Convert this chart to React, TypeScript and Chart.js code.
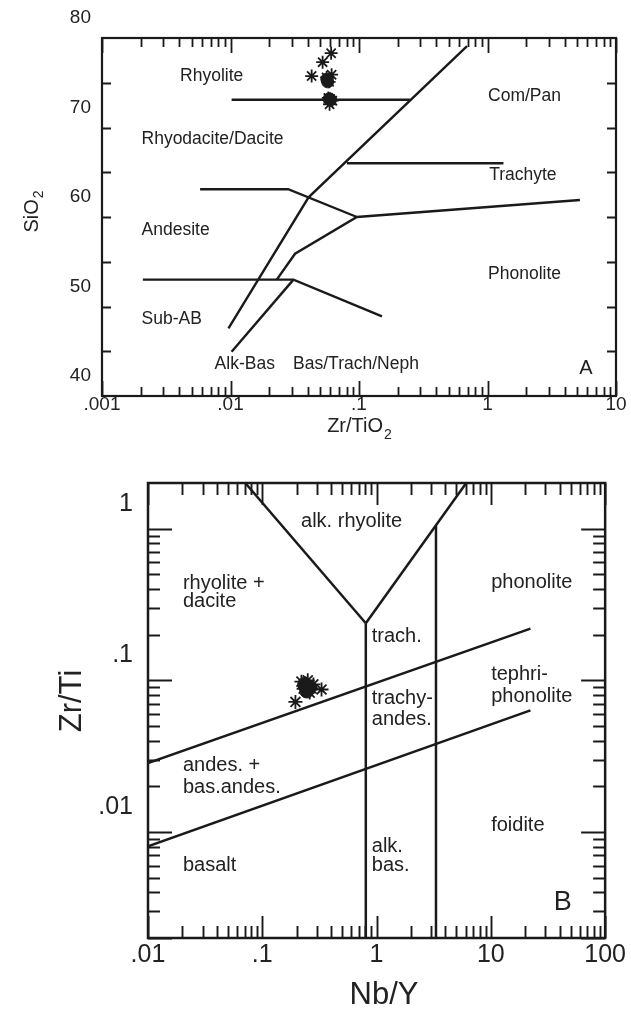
import React, { useEffect, useRef } from "react";
import { Chart, registerables } from "chart.js";
Chart.register(...registerables);

const FONT = "'Liberation Sans', Arial, Helvetica, sans-serif";
const INK = "#1a1a1a";

// ---------- Diagram A : SiO2 vs Zr/TiO2 ----------
const aXTicks = [0.001, 0.01, 0.1, 1, 10];
const aXTickLabels = [".001", ".01", ".1", "1", "10"];
const aYTicks = [40, 50, 60, 70, 80];
const aYTickLabels = ["40", "50", "60", "70", "80"];
const aYMinorTicks = [45, 50, 55, 60, 65, 70, 75];

// field boundaries (Zr/TiO2, SiO2)
const aRhyoliteX = [0.0102, 0.249];
const aRhyoliteY = [73.1, 73.1];
const aMainX = [0.693, 0.0405, 0.00964];
const aMainY = [79.1, 62.2, 47.56];
const aTrachyteX = [0.0805, 1.33];
const aTrachyteY = [66.0, 66.0];
const aAndesiteX = [0.0058, 0.0281, 0.0963];
const aAndesiteY = [63.1, 63.1, 60.0];
const aPhonoliteX = [0.0229, 0.0318, 0.0963, 5.24];
const aPhonoliteY = [53.0, 55.9, 60.0, 61.9];
const aSubABX = [0.00208, 0.0309, 0.151];
const aSubABY = [53.0, 53.0, 48.9];
const aAlkBasX = [0.0102, 0.0309];
const aAlkBasY = [44.95, 53.0];

// samples
const aStarX = [0.0607, 0.0521, 0.0428, 0.0612, 0.0585, 0.0597, 0.0577, 0.062, 0.059, 0.056];
const aStarY = [78.3, 77.3, 75.75, 75.9, 75.1, 73.2, 73.3, 73.0, 72.6, 75.6];
const aDotX = [0.0562, 0.057, 0.0585, 0.06];
const aDotY = [75.4, 75.1, 73.2, 73.1];

// field names
const aLabelText = ["Rhyolite", "Com/Pan", "Rhyodacite/Dacite", "Trachyte", "Andesite", "Phonolite", "Sub-AB", "Alk-Bas", "Bas/Trach/Neph"];
const aLabelX = [0.00405, 1.01, 0.00203, 1.03, 0.00203, 1.01, 0.00203, 0.00752, 0.0307];
const aLabelY = [75.7, 73.55, 68.7, 64.7, 58.55, 53.6, 48.57, 43.54, 43.54];

// ---------- Diagram B : Zr/Ti vs Nb/Y ----------
const bXTicks = [0.01, 0.1, 1, 10, 100];
const bXTickLabels = [".01", ".1", "1", "10", "100"];
const bYTicks = [0.01, 0.1, 1];
const bYTickLabels = [".01", ".1", "1"];

const bVLeftX = [0.071, 0.805];
const bVLeftY = [2, 0.238];
const bVRightX = [0.805, 6.09];
const bVRightY = [0.238, 2];
const bVert1X = [0.805, 0.805];
const bVert1Y = [0.238, 0.002];
const bVert2X = [3.31, 3.31];
const bVert2Y = [1.05, 0.002];
const bUpperX = [0.01, 22.2];
const bUpperY = [0.0285, 0.219];
const bLowerX = [0.01, 22.2];
const bLowerY = [0.00803, 0.0634];

const bStarX = [0.195, 0.33, 0.22, 0.28, 0.26, 0.23, 0.25];
const bStarY = [0.072, 0.087, 0.098, 0.094, 0.083, 0.088, 0.1];
const bDotX = [0.24, 0.25, 0.235, 0.26, 0.245];
const bDotY = [0.091, 0.088, 0.094, 0.09, 0.085];

const bLabelText = ["alk. rhyolite", "rhyolite +", "dacite", "phonolite", "trach.", "tephri-", "phonolite", "trachy-", "andes.", "andes. +", "bas.andes.", "foidite", "alk.", "bas.", "basalt"];
const bLabelX = [0.605, 0.0202, 0.0202, 10.06, 0.908, 10.06, 10.06, 0.908, 0.908, 0.0202, 0.0202, 10.06, 0.908, 0.908, 0.0202];
const bLabelY = [1.112, 0.436, 0.331, 0.441, 0.196, 0.11, 0.0777, 0.076, 0.0552, 0.0274, 0.0197, 0.01104, 0.00803, 0.00597, 0.00601];

// ---------- helpers ----------
type Pt = { x: number; y: number };
const pts = (xs: number[], ys: number[]): Pt[] => xs.map((x, i) => ({ x, y: ys[i] }));

const logMinor = (decades: number[]) => {
  const out: number[] = [];
  decades.slice(0, -1).forEach((d) => {
    for (let k = 2; k <= 9; k++) out.push(k * d);
  });
  return out;
};

const lineDs = (xs: number[], ys: number[], w: number) => ({
  data: pts(xs, ys),
  showLine: true,
  borderColor: INK,
  borderWidth: w,
  pointRadius: 0,
  fill: false,
  tension: 0,
});

type TickSet = { values: number[]; len: number };
type Title = { main: string; sub: string; x: number; y: number; rot: boolean; size: number; subSize: number; subDy: number };
type FrameCfg = {
  lineWidth: number;
  tickWidth: number;
  xTicks: TickSet[];
  yTicks: TickSet[];
  labelText: string[];
  labelX: number[];
  labelY: number[];
  labelSize: number;
  centerFirst: boolean;
  corner: { text: string; x: number; y: number; size: number };
  titles: Title[];
};

const makeFrame = (cfg: FrameCfg) => ({
  id: "frame",
  afterDraw(chart: any) {
    const { ctx, chartArea: a, scales } = chart;
    const xs = scales.x;
    const ys = scales.y;
    ctx.save();
    ctx.strokeStyle = INK;
    ctx.lineWidth = cfg.lineWidth;
    ctx.strokeRect(a.left, a.top, a.right - a.left, a.bottom - a.top);
    ctx.lineWidth = cfg.tickWidth;
    ctx.beginPath();
    cfg.xTicks.forEach((t) =>
      t.values.forEach((v) => {
        const px = Math.round(xs.getPixelForValue(v)) + 0.5;
        ctx.moveTo(px, a.bottom);
        ctx.lineTo(px, a.bottom - t.len);
        ctx.moveTo(px, a.top);
        ctx.lineTo(px, a.top + t.len);
      })
    );
    cfg.yTicks.forEach((t) =>
      t.values.forEach((v) => {
        const py = Math.round(ys.getPixelForValue(v)) + 0.5;
        ctx.moveTo(a.left, py);
        ctx.lineTo(a.left + t.len, py);
        ctx.moveTo(a.right, py);
        ctx.lineTo(a.right - t.len, py);
      })
    );
    ctx.stroke();

    ctx.fillStyle = "#222";
    ctx.textBaseline = "middle";
    ctx.font = `${cfg.labelSize}px ${FONT}`;
    cfg.labelText.forEach((txt, i) => {
      ctx.textAlign = cfg.centerFirst && i === 0 ? "center" : "left";
      ctx.fillText(txt, xs.getPixelForValue(cfg.labelX[i]), ys.getPixelForValue(cfg.labelY[i]));
    });
    ctx.textAlign = "center";
    ctx.font = `${cfg.corner.size}px ${FONT}`;
    ctx.fillText(cfg.corner.text, xs.getPixelForValue(cfg.corner.x), ys.getPixelForValue(cfg.corner.y));

    cfg.titles.forEach((t) => {
      ctx.save();
      ctx.translate(t.x, t.y);
      if (t.rot) ctx.rotate(-Math.PI / 2);
      ctx.font = `${t.size}px ${FONT}`;
      const mw = ctx.measureText(t.main).width;
      ctx.font = `${t.subSize}px ${FONT}`;
      const sw = t.sub ? ctx.measureText(t.sub).width : 0;
      const start = -(mw + sw) / 2;
      ctx.textAlign = "left";
      ctx.font = `${t.size}px ${FONT}`;
      ctx.fillText(t.main, start, 0);
      if (t.sub) {
        ctx.font = `${t.subSize}px ${FONT}`;
        ctx.fillText(t.sub, start + mw + 1, t.subDy);
      }
      ctx.restore();
    });
    ctx.restore();
  },
});

const axisCommon = {
  grid: { display: false, drawTicks: false },
  border: { display: false },
};

function buildA(): any {
  return {
    type: "scatter",
    data: {
      datasets: [
        lineDs(aRhyoliteX, aRhyoliteY, 2.4),
        lineDs(aMainX, aMainY, 2.4),
        lineDs(aTrachyteX, aTrachyteY, 2.4),
        lineDs(aAndesiteX, aAndesiteY, 2.4),
        lineDs(aPhonoliteX, aPhonoliteY, 2.4),
        lineDs(aSubABX, aSubABY, 2.4),
        lineDs(aAlkBasX, aAlkBasY, 2.4),
        {
          data: pts(aStarX, aStarY),
          pointStyle: "star",
          pointRadius: 6.5,
          borderColor: INK,
          backgroundColor: INK,
          borderWidth: 1.8,
        },
        {
          data: pts(aDotX, aDotY),
          pointStyle: "circle",
          pointRadius: 6,
          borderColor: INK,
          backgroundColor: INK,
          borderWidth: 1,
        },
      ],
    },
    options: {
      responsive: false,
      animation: false,
      devicePixelRatio: 1,
      events: [],
      layout: { padding: { top: 38, right: 15, bottom: 0, left: 0 } },
      plugins: { legend: { display: false }, tooltip: { enabled: false } },
      scales: {
        x: {
          ...axisCommon,
          type: "logarithmic",
          position: "bottom",
          min: 0.001,
          max: 10,
          afterBuildTicks: (s: any) => {
            s.ticks = aXTicks.map((v) => ({ value: v }));
          },
          afterFit: (s: any) => {
            s.height = 54;
          },
          ticks: {
            autoSkip: false,
            maxRotation: 0,
            minRotation: 0,
            padding: -1,
            color: "#222",
            font: { family: FONT, size: 19, lineHeight: 1 },
            callback: (_v: any, i: number) => aXTickLabels[i],
          },
        },
        y: {
          ...axisCommon,
          type: "linear",
          position: "left",
          min: 40,
          max: 80,
          afterBuildTicks: (s: any) => {
            s.ticks = aYTicks.map((v) => ({ value: v }));
          },
          afterFit: (s: any) => {
            s.width = 102;
          },
          ticks: {
            autoSkip: false,
            padding: 11,
            labelOffset: -20,
            color: "#222",
            font: { family: FONT, size: 19, lineHeight: 1 },
            callback: (_v: any, i: number) => aYTickLabels[i],
          },
        },
      },
    },
    plugins: [
      makeFrame({
        lineWidth: 2.2,
        tickWidth: 1.8,
        xTicks: [
          { values: aXTicks, len: 15 },
          { values: logMinor(aXTicks), len: 9 },
        ],
        yTicks: [{ values: aYMinorTicks, len: 9 }],
        labelText: aLabelText,
        labelX: aLabelX,
        labelY: aLabelY,
        labelSize: 17.5,
        centerFirst: false,
        corner: { text: "A", x: 5.83, y: 43.1, size: 20 },
        titles: [
          { main: "SiO", sub: "2", x: 32, y: 212, rot: true, size: 20, subSize: 14, subDy: 7 },
          { main: "Zr/TiO", sub: "2", x: 359, y: 426, rot: false, size: 20, subSize: 14, subDy: 9 },
        ],
      }),
    ],
  };
}

function buildB(): any {
  return {
    type: "scatter",
    data: {
      datasets: [
        lineDs(bVLeftX, bVLeftY, 2.5),
        lineDs(bVRightX, bVRightY, 2.5),
        lineDs(bVert1X, bVert1Y, 2.5),
        lineDs(bVert2X, bVert2Y, 2.5),
        lineDs(bUpperX, bUpperY, 2.5),
        lineDs(bLowerX, bLowerY, 2.5),
        {
          data: pts(bStarX, bStarY),
          pointStyle: "star",
          pointRadius: 7,
          borderColor: INK,
          backgroundColor: INK,
          borderWidth: 1.8,
        },
        {
          data: pts(bDotX, bDotY),
          pointStyle: "circle",
          pointRadius: 7,
          borderColor: INK,
          backgroundColor: INK,
          borderWidth: 1,
        },
      ],
    },
    options: {
      responsive: false,
      animation: false,
      devicePixelRatio: 1,
      events: [],
      layout: { padding: { top: 33, right: 25, bottom: 0, left: 0 } },
      plugins: { legend: { display: false }, tooltip: { enabled: false } },
      scales: {
        x: {
          ...axisCommon,
          type: "logarithmic",
          position: "bottom",
          min: 0.01,
          max: 100,
          afterBuildTicks: (s: any) => {
            s.ticks = bXTicks.map((v) => ({ value: v }));
          },
          afterFit: (s: any) => {
            s.height = 71;
          },
          ticks: {
            autoSkip: false,
            maxRotation: 0,
            minRotation: 0,
            padding: 5,
            color: "#222",
            font: { family: FONT, size: 25, lineHeight: 1 },
            callback: (_v: any, i: number) => bXTickLabels[i],
          },
        },
        y: {
          ...axisCommon,
          type: "logarithmic",
          position: "left",
          min: 0.002,
          max: 2,
          afterBuildTicks: (s: any) => {
            s.ticks = bYTicks.map((v) => ({ value: v }));
          },
          afterFit: (s: any) => {
            s.width = 148;
          },
          ticks: {
            autoSkip: false,
            padding: 15,
            labelOffset: -25,
            color: "#222",
            font: { family: FONT, size: 25, lineHeight: 1 },
            callback: (_v: any, i: number) => bYTickLabels[i],
          },
        },
      },
    },
    plugins: [
      makeFrame({
        lineWidth: 2.5,
        tickWidth: 1.9,
        xTicks: [
          { values: bXTicks, len: 22 },
          { values: logMinor(bXTicks), len: 12 },
        ],
        yTicks: [
          { values: [0.002, ...bYTicks], len: 24 },
          { values: [0.003, 0.004, 0.005, 0.006, 0.007, 0.008, 0.009, ...logMinor(bYTicks)], len: 12 },
        ],
        labelText: bLabelText,
        labelX: bLabelX,
        labelY: bLabelY,
        labelSize: 20,
        centerFirst: true,
        corner: { text: "B", x: 42.5, y: 0.00341, size: 27 },
        titles: [
          { main: "Zr/Ti", sub: "", x: 72, y: 251, rot: true, size: 31, subSize: 20, subDy: 0 },
          { main: "Nb/Y", sub: "", x: 384, y: 545, rot: false, size: 31, subSize: 20, subDy: 0 },
        ],
      }),
    ],
  };
}

export default function App() {
  const refA = useRef<HTMLCanvasElement>(null);
  const refB = useRef<HTMLCanvasElement>(null);
  useEffect(() => {
    const ca = new Chart(refA.current as HTMLCanvasElement, buildA());
    const cb = new Chart(refB.current as HTMLCanvasElement, buildB());
    return () => {
      ca.destroy();
      cb.destroy();
    };
  }, []);
  return (
    <div style={{ position: "absolute", left: 0, top: 0, width: 631, height: 1009, background: "#fff" }}>
      <canvas
        ref={refA}
        width={631}
        height={450}
        style={{ position: "absolute", left: 0, top: 0, width: 631, height: 450 }}
      />
      <canvas
        ref={refB}
        width={631}
        height={559}
        style={{ position: "absolute", left: 0, top: 450, width: 631, height: 559 }}
      />
    </div>
  );
}
